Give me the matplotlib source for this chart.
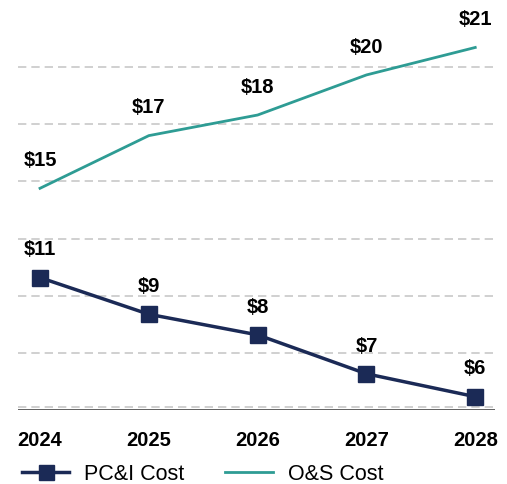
import matplotlib.pyplot as plt

plt.rcParams['font.family'] = ['Liberation Sans', 'DejaVu Sans']

years = ["2024", "2025", "2026", "2027", "2028"]
pci_cost = [10.8, 9.2, 8.3, 6.6, 5.6]
os_cost = [14.7, 17.0, 17.9, 19.65, 20.85]
pci_labels = ["$11", "$9", "$8", "$7", "$6"]
os_labels = ["$15", "$17", "$18", "$20", "$21"]

navy = "#1b2a56"
teal = "#2e9c94"

fig = plt.figure(figsize=(5.07, 4.84), dpi=100)
ax = fig.add_axes([0.036, 0.152, 0.94, 0.828])

x = list(range(len(years)))

# grille horizontale pointillée
for yv in [5.15, 7.5, 10, 12.5, 15, 17.5, 20]:
    ax.axhline(yv, color="#c8c8c8", linestyle=(0, (5, 3)), linewidth=1.2, zorder=0)
ax.axhline(5, color="#333333", linewidth=1.8, zorder=1)

ax.plot(x, pci_cost, color=navy, linewidth=2.5, marker="s", markersize=12,
        label="PC&I Cost", zorder=3)
ax.plot(x, os_cost, color=teal, linewidth=2, label="O&S Cost", zorder=3)

for xi, v, t in zip(x, pci_cost, pci_labels):
    ax.annotate(t, (xi, v), xytext=(0, 20), textcoords="offset points",
                ha="center", va="center", fontsize=14.5, fontweight="bold")
for xi, v, t in zip(x, os_cost, os_labels):
    ax.annotate(t, (xi, v), xytext=(0, 20), textcoords="offset points",
                ha="center", va="center", fontsize=14.5, fontweight="bold")

ax.set_xlim(-0.2, 4.18)
ax.set_ylim(5, 22.5)
ax.set_xticks(x)
ax.set_xticklabels(years, fontsize=14.5, fontweight="bold")
ax.tick_params(axis="x", length=0, pad=15)
ax.set_yticks([])
for s in ax.spines.values():
    s.set_visible(False)

fig.legend(loc="center left", bbox_to_anchor=(0.005, 0.02), ncol=2, frameon=False,
           fontsize=15.5, handlelength=2.2, handletextpad=0.7, columnspacing=1.9,
           markerscale=0.9)

fig.savefig("out.png", dpi=100)
